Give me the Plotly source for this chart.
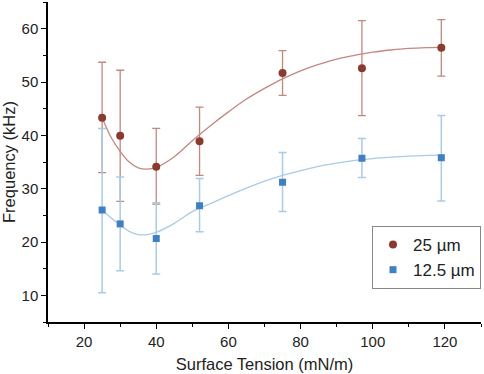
import plotly.graph_objects as go

# Measured data
x_25 = [25, 30, 40, 52, 75, 97, 119]
y_25 = [43.3, 39.9, 34.1, 38.9, 51.7, 52.6, 56.4]
err_25_plus = [10.4, 12.3, 7.2, 6.4, 4.2, 8.9, 5.3]
err_25_minus = [10.3, 12.3, 7.0, 6.4, 4.2, 8.9, 5.3]

x_125 = [25, 30, 40, 52, 75, 97, 119]
y_125 = [26.0, 23.4, 20.65, 26.8, 31.2, 35.7, 35.8]
err_125_plus = [15.3, 8.8, 6.7, 5.1, 5.6, 3.7, 7.9]
err_125_minus = [15.5, 8.8, 6.65, 4.9, 5.5, 3.6, 8.1]

# Fitted curves
fit_x_25 = [25, 27.5, 30, 32.5, 35, 37.5, 40, 45, 50, 55, 60, 65, 70, 75, 80, 85, 90, 95, 100, 105, 110, 115, 119]
fit_y_25 = [43.3, 39.6, 37.0, 35.0, 33.9, 33.65, 34.0, 36.0, 39.0, 41.8, 44.4, 46.8, 48.8, 50.6, 52.1, 53.3, 54.3, 55.0, 55.6, 56.0, 56.3, 56.45, 56.5]

fit_x_125 = [25, 27.5, 30, 32.5, 35, 37.5, 40, 45, 50, 55, 60, 65, 70, 75, 80, 85, 90, 95, 100, 105, 110, 115, 119]
fit_y_125 = [26.0, 24.5, 23.2, 22.0, 21.4, 21.4, 21.8, 23.5, 25.7, 27.2, 28.7, 30.1, 31.4, 32.5, 33.4, 34.2, 34.8, 35.3, 35.65, 35.9, 36.1, 36.25, 36.3]

x_ticks = [20, 40, 60, 80, 100, 120]
y_ticks = [10, 20, 30, 40, 50, 60]

RED = "#8B3A30"
BLUE = "#4080C0"
RED_LIGHT = "#c48780"
BLUE_LIGHT = "#aacbe6"
FONT = "Liberation Sans, Arial, sans-serif"

fig = go.Figure()

fig.add_trace(go.Scatter(x=fit_x_125, y=fit_y_125, mode="lines", line=dict(color=BLUE_LIGHT, width=1.3, shape="spline"),
                         showlegend=False, hoverinfo="skip"))
fig.add_trace(go.Scatter(x=fit_x_25, y=fit_y_25, mode="lines", line=dict(color=RED_LIGHT, width=1.3, shape="spline"),
                         showlegend=False, hoverinfo="skip"))

fig.add_trace(go.Scatter(
    x=x_25, y=y_25, mode="markers", name="25 µm", legendrank=1,
    marker=dict(symbol="circle", size=8, color=RED),
    error_y=dict(type="data", symmetric=False, array=err_25_plus, arrayminus=err_25_minus,
                 color=RED_LIGHT, thickness=1.3, width=4),
))
fig.add_trace(go.Scatter(
    x=x_125, y=y_125, mode="markers", name="12.5 µm", legendrank=2,
    marker=dict(symbol="square", size=7, color=BLUE),
    error_y=dict(type="data", symmetric=False, array=err_125_plus, arrayminus=err_125_minus,
                 color=BLUE_LIGHT, thickness=1.5, width=4),
))

axis_common = dict(showline=True, linecolor="black", linewidth=1.5, ticks="outside", ticklen=5, tickwidth=1.3,
                   tickcolor="black", showgrid=False, zeroline=False, mirror=False,
                   tickfont=dict(family=FONT, size=15, color="#222"))

fig.update_xaxes(range=[10, 130], tickvals=x_ticks,
                 minor=dict(dtick=10, tick0=10, ticks="outside", ticklen=3, tickwidth=1.2, tickcolor="black"),
                 title=dict(text="Surface Tension (mN/m)", font=dict(family=FONT, size=16.5, color="#222"), standoff=10),
                 **axis_common)
fig.update_yaxes(range=[5, 65], tickvals=y_ticks,
                 minor=dict(dtick=5, tick0=5, ticks="outside", ticklen=3, tickwidth=1.2, tickcolor="black"),
                 title=dict(text="Frequency (kHz)", font=dict(family=FONT, size=16.5, color="#222"), standoff=4),
                 **axis_common)

fig.update_layout(
    width=484, height=374,
    margin=dict(l=48, r=3, t=2, b=52),
    plot_bgcolor="white", paper_bgcolor="white",
    legend=dict(x=1, xanchor="right", y=0.103, yanchor="bottom",
                bordercolor="#888", borderwidth=1, bgcolor="white",
                font=dict(family=FONT, size=17, color="#222"), itemwidth=30,
                tracegroupgap=0),
)

fig.write_html("out.html", config={"displayModeBar": False},
               post_script="document.body.style.margin='0';document.body.style.overflow='hidden';")
